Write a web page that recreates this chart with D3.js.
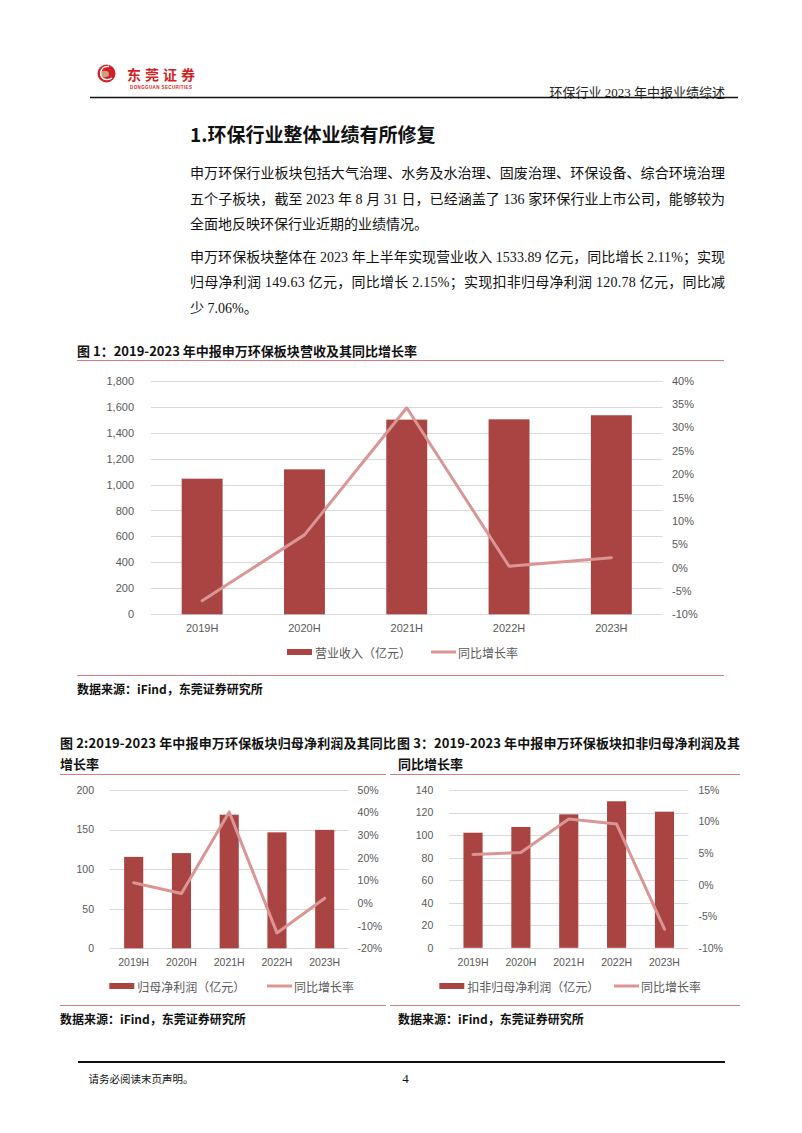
<!DOCTYPE html>
<html>
<head>
<meta charset="utf-8">
<script src="https://cdn.jsdelivr.net/npm/d3@7"></script>
<style>
  html, body { margin: 0; padding: 0; background: #fff; }
  svg { display: block; }
</style>
</head>
<body>
<svg id="page" width="802" height="1133"></svg>
<script>
// ---------------- DATA ----------------
const categories = ["2019H", "2020H", "2021H", "2022H", "2023H"];

// Figure 1: revenue (亿元) and YoY (%)
const revenue = [1045, 1117, 1500, 1502.3, 1533.89];
const revenueYoY = [-7.1, 7.0, 34.2, 0.3, 2.11];
const revenueTicks = [0, 200, 400, 600, 800, 1000, 1200, 1400, 1600, 1800];
const revenueYoYTicks = [-10, -5, 0, 5, 10, 15, 20, 25, 30, 35, 40];

// Figure 2: net profit attributable to parent (亿元) and YoY (%)
const netProfit = [115.5, 120.3, 168.8, 146.5, 149.63];
const netProfitYoY = [9.0, 4.2, 40.3, -13.2, 2.15];
const netProfitTicks = [0, 50, 100, 150, 200];
const netProfitYoYTicks = [-20, -10, 0, 10, 20, 30, 40, 50];

// Figure 3: deducted net profit (亿元) and YoY (%)
const deductedProfit = [102.1, 107.2, 118.4, 130.0, 120.78];
const deductedProfitYoY = [4.8, 5.1, 10.4, 9.6, -7.06];
const deductedProfitTicks = [0, 20, 40, 60, 80, 100, 120, 140];
const deductedProfitYoYTicks = [-10, -5, 0, 5, 10, 15];

// Texts
const headerRight = "环保行业 2023 年中报业绩综述";
const sectionTitle = "1.环保行业整体业绩有所修复";
const paragraphLines = [
  "申万环保行业板块包括大气治理、水务及水治理、固废治理、环保设备、综合环境治理",
  "五个子板块，截至 2023 年 8 月 31 日，已经涵盖了 136 家环保行业上市公司，能够较为",
  "全面地反映环保行业近期的业绩情况。",
  "申万环保板块整体在 2023 年上半年实现营业收入 1533.89 亿元，同比增长 2.11%；实现",
  "归母净利润 149.63 亿元，同比增长 2.15%；实现扣非归母净利润 120.78 亿元，同比减",
  "少 7.06%。"
];
const sourceText = "数据来源：iFind，东莞证券研究所";

// ---------------- STYLE ----------------
const BAR = "#AA4443";
const LINE = "#D99695";
const GRID = "#D9D9D9";
const AXIS_TXT = "#595959";
const SEP = "#CF7E86";
const SANS = "'Noto Sans CJK SC', 'Noto Sans', sans-serif";
const NUM = "'Liberation Sans', Arial, sans-serif";
const SERIFMIX = "'Liberation Serif', 'Noto Sans CJK SC', serif";

const svg = d3.select("#page");
svg.append("rect").attr("width", 802).attr("height", 1133).attr("fill", "#fff");

// ---------------- HEADER ----------------
const logo = svg.append("g");
logo.append("circle").attr("cx", 106.5).attr("cy", 73.5).attr("r", 9).attr("fill", "#D31F26");
logo.append("ellipse").attr("cx", 104.5).attr("cy", 74).attr("rx", 4.5).attr("ry", 3.2).attr("fill", "#C9A27A");
logo.append("path").attr("d", "M109 66.5 C101 66 99 73 102 77.5 C104 80 109 80.5 112 78")
  .attr("fill", "none").attr("stroke", "#fff").attr("stroke-width", 1.3);
svg.append("text").attr("x", 127).attr("y", 74).attr("dominant-baseline", "central")
  .attr("font-family", SANS).attr("font-weight", "bold").attr("font-size", 14)
  .attr("fill", "#D31F26").attr("textLength", 68).attr("lengthAdjust", "spacing").text("东莞证券");
svg.append("text").attr("x", 130).attr("y", 87.5).attr("dominant-baseline", "central")
  .attr("font-family", NUM).attr("font-weight", "bold").attr("font-size", 4.5)
  .attr("fill", "#D31F26").attr("textLength", 62).attr("lengthAdjust", "spacing").text("DONGGUAN SECURITIES");
svg.append("text").attr("x", 725).attr("y", 92).attr("dominant-baseline", "central")
  .attr("text-anchor", "end").attr("font-family", SERIFMIX).attr("font-size", 13)
  .attr("fill", "#222").text(headerRight);
svg.append("line").attr("x1", 90).attr("x2", 738).attr("y1", 97.5).attr("y2", 97.5)
  .attr("stroke", "#111").attr("stroke-width", 1.6);

// ---------------- SECTION TEXT ----------------
svg.append("text").attr("x", 190).attr("y", 133).attr("dominant-baseline", "central")
  .attr("font-family", SANS).attr("font-weight", "bold").attr("font-size", 19)
  .attr("fill", "#111").text(sectionTitle);

const lineYs = [173.5, 199, 224, 257.5, 282.5, 308];
const justified = [true, true, false, true, true, false];
paragraphLines.forEach((t, i) => {
  const el = svg.append("text").attr("x", 190).attr("y", lineYs[i])
    .attr("dominant-baseline", "central").attr("font-family", SERIFMIX)
    .attr("font-size", 14).attr("fill", "#111").text(t);
  if (justified[i]) el.attr("textLength", 535).attr("lengthAdjust", "spacing");
});

// ---------------- CHART HELPER ----------------
function comboChart(c) {
  const g = svg.append("g");
  const x = d3.scaleBand().domain(categories).range([c.x0, c.x1]).paddingInner(0.6).paddingOuter(0.3);
  const yL = d3.scaleLinear().domain([c.leftTicks[0], c.leftTicks[c.leftTicks.length - 1]]).range([c.yBot, c.yTop]);
  const yR = d3.scaleLinear().domain([c.rightTicks[0], c.rightTicks[c.rightTicks.length - 1]]).range([c.yBot, c.yTop]);

  // grid
  g.append("g").selectAll("line").data(c.leftTicks).join("line")
    .attr("x1", c.x0).attr("x2", c.x1)
    .attr("y1", d => Math.round(yL(d)) + 0.5).attr("y2", d => Math.round(yL(d)) + 0.5)
    .attr("stroke", GRID).attr("stroke-width", 1);

  // bars
  g.append("g").selectAll("rect").data(c.bars).join("rect")
    .attr("x", (d, i) => x(categories[i])).attr("width", x.bandwidth())
    .attr("y", d => yL(d)).attr("height", d => yL(0) - yL(d))
    .attr("fill", BAR);

  // line
  const line = d3.line().x((d, i) => x(categories[i]) + x.bandwidth() / 2).y(d => yR(d));
  g.append("path").datum(c.pct).attr("d", line).attr("fill", "none")
    .attr("stroke", LINE).attr("stroke-width", 3).attr("stroke-linejoin", "round").attr("stroke-linecap", "round");

  // axes
  const styleAxis = (sel, size) => {
    sel.select(".domain").remove();
    sel.selectAll("text").attr("font-family", NUM).attr("font-size", size).attr("fill", AXIS_TXT);
  };
  g.append("g").attr("transform", `translate(${c.x0},0)`)
    .call(d3.axisLeft(yL).tickValues(c.leftTicks).tickSize(0).tickPadding(c.leftPad).tickFormat(c.leftFmt))
    .call(s => styleAxis(s, c.fs));
  g.append("g").attr("transform", `translate(${c.x1},0)`)
    .call(d3.axisRight(yR).tickValues(c.rightTicks).tickSize(0).tickPadding(c.rightPad).tickFormat(d => d + "%"))
    .call(s => styleAxis(s, c.fs));
  g.append("g").attr("transform", `translate(0,${c.yBot})`)
    .call(d3.axisBottom(x).tickSize(0).tickPadding(c.bottomPad))
    .call(s => styleAxis(s, c.fs));

  // legend
  const lg = g.append("g");
  lg.append("rect").attr("x", c.leg.barX).attr("y", c.leg.y - 3).attr("width", 25).attr("height", 6).attr("fill", BAR);
  lg.append("text").attr("x", c.leg.barX + 28).attr("y", c.leg.y).attr("dominant-baseline", "central")
    .attr("font-family", SANS).attr("font-size", 12).attr("fill", AXIS_TXT).text(c.leg.barLabel);
  lg.append("line").attr("x1", c.leg.lineX).attr("x2", c.leg.lineX + 25).attr("y1", c.leg.y).attr("y2", c.leg.y)
    .attr("stroke", LINE).attr("stroke-width", 3);
  lg.append("text").attr("x", c.leg.lineX + 27).attr("y", c.leg.y).attr("dominant-baseline", "central")
    .attr("font-family", SANS).attr("font-size", 12).attr("fill", AXIS_TXT).text("同比增长率");
}

function titleText(x, y, t, len) {
  const el = svg.append("text").attr("x", x).attr("y", y).attr("dominant-baseline", "central")
    .attr("font-family", SANS).attr("font-weight", "bold").attr("font-size", 13)
    .attr("fill", "#111").text(t);
  if (len) el.attr("textLength", len).attr("lengthAdjust", "spacing");
}
function sepLine(x1, x2, y) {
  svg.append("line").attr("x1", x1).attr("x2", x2).attr("y1", y).attr("y2", y)
    .attr("stroke", SEP).attr("stroke-width", 1);
}
function source(x, y) {
  svg.append("text").attr("x", x).attr("y", y).attr("dominant-baseline", "central")
    .attr("font-family", SANS).attr("font-weight", "bold").attr("font-size", 12)
    .attr("fill", "#111").text(sourceText);
}

// ---------------- FIGURE 1 ----------------
titleText(77, 350.5, "图 1：2019-2023 年中报申万环保板块营收及其同比增长率", 340);
sepLine(77, 724, 360.5);
comboChart({
  x0: 151, x1: 662.5, yTop: 380.7, yBot: 614.3,
  bars: revenue, pct: revenueYoY,
  leftTicks: revenueTicks, rightTicks: revenueYoYTicks,
  leftFmt: d3.format(","), leftPad: 17, rightPad: 9.5, bottomPad: 9.8, fs: 11,
  leg: { y: 652, barX: 287, lineX: 431, barLabel: "营业收入（亿元）" }
});
sepLine(77, 724, 675.5);
source(77, 688);

// ---------------- FIGURE 2 ----------------
titleText(60, 742, "图 2:2019-2023 年中报申万环保板块归母净利润及其同比", 336);
titleText(60, 763.5, "增长率");
sepLine(60, 386, 774.5);
comboChart({
  x0: 109.8, x1: 348.6, yTop: 790, yBot: 948.3,
  bars: netProfit, pct: netProfitYoY,
  leftTicks: netProfitTicks, rightTicks: netProfitYoYTicks,
  leftFmt: d3.format("d"), leftPad: 15.8, rightPad: 9, bottomPad: 10.3, fs: 10.5,
  leg: { y: 986, barX: 109.3, lineX: 267, barLabel: "归母净利润（亿元）" }
});
sepLine(60, 386, 1005.5);
source(60, 1018.5);

// ---------------- FIGURE 3 ----------------
titleText(397, 742, "图 3：2019-2023 年中报申万环保板块扣非归母净利润及其", 343);
titleText(398, 763.5, "同比增长率");
sepLine(390, 740, 774.5);
comboChart({
  x0: 449.1, x1: 688.4, yTop: 790, yBot: 947.8,
  bars: deductedProfit, pct: deductedProfitYoY,
  leftTicks: deductedProfitTicks, rightTicks: deductedProfitYoYTicks,
  leftFmt: d3.format("d"), leftPad: 15.8, rightPad: 10, bottomPad: 10.3, fs: 10.5,
  leg: { y: 986, barX: 439.3, lineX: 614, barLabel: "扣非归母净利润（亿元）" }
});
sepLine(390, 740, 1005.5);
source(398, 1018.5);

// ---------------- FOOTER ----------------
svg.append("line").attr("x1", 78).attr("x2", 725).attr("y1", 1062).attr("y2", 1062)
  .attr("stroke", "#111").attr("stroke-width", 2);
svg.append("text").attr("x", 88.5).attr("y", 1078.5).attr("dominant-baseline", "central")
  .attr("font-family", SANS).attr("font-size", 10.5).attr("fill", "#111").text("请务必阅读末页声明。");
svg.append("text").attr("x", 405.5).attr("y", 1078.5).attr("dominant-baseline", "central")
  .attr("text-anchor", "middle").attr("font-family", "'Liberation Serif', serif")
  .attr("font-size", 13).attr("fill", "#111").text("4");
</script>
</body>
</html>
